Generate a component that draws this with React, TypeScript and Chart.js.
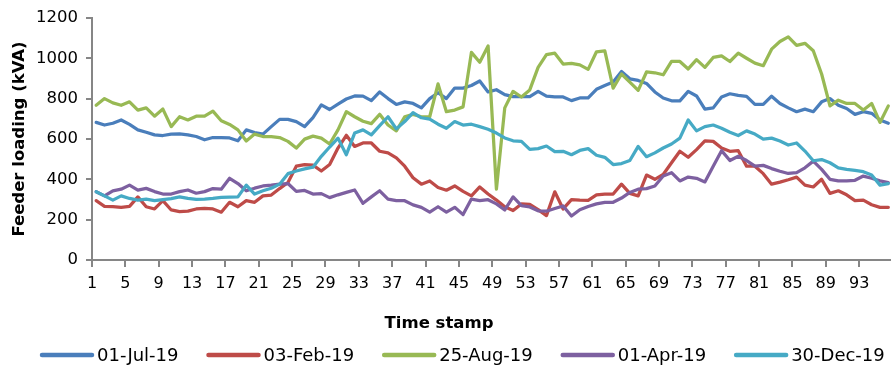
import React, { useEffect, useRef } from "react";
import { Chart, registerables } from "chart.js";

Chart.register(...registerables);

// Time stamps (15-minute intervals over one day)
const timeStamps = [
  1, 2, 3, 4, 5, 6, 7, 8, 9, 10, 11, 12, 13, 14, 15, 16, 17, 18, 19, 20,
  21, 22, 23, 24, 25, 26, 27, 28, 29, 30, 31, 32, 33, 34, 35, 36, 37, 38, 39, 40,
  41, 42, 43, 44, 45, 46, 47, 48, 49, 50, 51, 52, 53, 54, 55, 56, 57, 58, 59, 60,
  61, 62, 63, 64, 65, 66, 67, 68, 69, 70, 71, 72, 73, 74, 75, 76, 77, 78, 79, 80,
  81, 82, 83, 84, 85, 86, 87, 88, 89, 90, 91, 92, 93, 94, 95, 96,
];

// Feeder loading (kVA) per day
const jul01 = [
  682, 669, 678, 694, 672, 645, 633, 620, 617, 624,
  625, 620, 612, 596, 607, 607, 605, 591, 645, 632,
  624, 661, 697, 697, 686, 661, 706, 769, 746, 773,
  798, 813, 812, 790, 833, 800, 771, 784, 776, 754,
  800, 829, 800, 852, 852, 865, 887, 833, 844, 820,
  810, 810, 810, 836, 812, 808, 808, 790, 803, 803,
  846, 865, 882, 934, 898, 890, 875, 833, 803, 789,
  789, 836, 813, 748, 754, 808, 824, 816, 811, 771,
  771, 812, 776, 754, 735, 748, 735, 784, 800, 767,
  751, 722, 735, 727, 694, 678,
];

const feb03 = [
  294, 266, 264, 261, 266, 313, 264, 253, 294, 248,
  240, 242, 253, 256, 253, 237, 286, 264, 294, 286,
  318, 322, 354, 384, 465, 473, 470, 441, 473, 555,
  618, 563, 580, 580, 539, 531, 506, 465, 408, 376,
  392, 359, 346, 367, 340, 318, 362, 327, 297, 264,
  245, 278, 276, 250, 220, 338, 253, 299, 297, 296,
  323, 327, 327, 376, 330, 318, 421, 400, 424, 482,
  539, 509, 547, 591, 588, 555, 539, 542, 465, 465,
  428, 376, 386, 398, 411, 371, 362, 400, 330, 343,
  323, 294, 297, 274, 261, 261,
];

const aug25 = [
  767, 800, 779, 767, 784, 743, 754, 713, 748, 661,
  710, 694, 713, 713, 738, 690, 672, 645, 590, 624,
  612, 612, 607, 588, 555, 599, 614, 604, 575, 645,
  735, 710, 688, 676, 722, 669, 640, 710, 722, 710,
  710, 873, 735, 743, 759, 1029, 980, 1061, 351, 754,
  836, 808, 843, 955, 1018, 1025, 971, 975, 967, 945,
  1032, 1037, 852, 922, 882, 841, 932, 928, 918, 984,
  984, 947, 993, 955, 1004, 1012, 984, 1025, 1000, 976,
  963, 1045, 1083, 1106, 1064, 1074, 1037, 922, 764, 792,
  776, 776, 743, 776, 682, 764,
];

const apr01 = [
  338, 318, 343, 351, 371, 346, 355, 339, 327, 327,
  339, 347, 331, 339, 354, 351, 405, 379, 343, 356,
  367, 371, 376, 379, 340, 345, 327, 329, 309, 323,
  335, 347, 281, 313, 343, 302, 294, 294, 273, 261,
  237, 264, 237, 261, 225, 302, 294, 299, 278, 248,
  313, 269, 263, 244, 242, 255, 268, 218, 249, 265,
  278, 286, 286, 307, 335, 351, 354, 367, 416, 433,
  392, 411, 405, 387, 465, 542, 493, 514, 493, 465,
  469, 453, 440, 429, 433, 457, 490, 449, 400, 392,
  392, 395, 416, 405, 392, 384,
];

const dec30 = [
  338, 318, 297, 318, 305, 297, 302, 294, 299, 304,
  313, 305, 300, 302, 305, 310, 312, 313, 371, 327,
  343, 356, 376, 428, 441, 452, 460, 514, 560, 604,
  522, 629, 645, 620, 666, 710, 650, 686, 730, 705,
  698, 673, 653, 686, 669, 673, 661, 648, 629, 605,
  591, 588, 548, 552, 565, 537, 539, 522, 543, 552,
  519, 509, 473, 478, 493, 563, 512, 531, 555, 575,
  604, 694, 640, 661, 669, 653, 633, 617, 640, 624,
  599, 604, 590, 570, 580, 540, 492, 498, 482, 457,
  449, 444, 438, 421, 371, 379,
];

const seriesNames = ["01-Jul-19", "03-Feb-19", "25-Aug-19", "01-Apr-19", "30-Dec-19"];
const seriesValues = [jul01, feb03, aug25, apr01, dec30];
const seriesColors = ["#4A7EBB", "#BE4B48", "#98B954", "#7D60A0", "#46AAC5"];

const yTitle = "Feeder loading (kVA)";
const xTitle = "Time stamp";
const labelEvery = 4;

const AXIS_GREY = "#868686";
const FONT = '"DejaVu Sans", "Liberation Sans", sans-serif';

// Draws the axis titles and the legend row under the plot
const decorations = {
  id: "decorations",
  afterDraw(chart: any) {
    const { ctx } = chart;
    ctx.save();
    ctx.fillStyle = "#000";

    // y axis title
    ctx.font = `bold 16.5px ${FONT}`;
    ctx.textAlign = "center";
    ctx.textBaseline = "middle";
    ctx.save();
    ctx.translate(19.5, 139);
    ctx.rotate(-Math.PI / 2);
    ctx.fillText(yTitle, 0, 0);
    ctx.restore();

    // x axis title
    ctx.fillText(xTitle, 439, 324);

    // legend
    ctx.font = `18px ${FONT}`;
    ctx.textAlign = "left";
    const y = 355;
    let x = 40;
    seriesNames.forEach((name, i) => {
      ctx.strokeStyle = seriesColors[i];
      ctx.lineWidth = 4.5;
      ctx.lineCap = "round";
      ctx.beginPath();
      ctx.moveTo(x + 2, y);
      ctx.lineTo(x + 52, y);
      ctx.stroke();
      ctx.fillText(name, x + 57, y + 1);
      x += 57 + ctx.measureText(name).width + 28;
    });
    ctx.restore();
  },
};

export default function App() {
  const canvasRef = useRef<HTMLCanvasElement | null>(null);

  useEffect(() => {
    if (!canvasRef.current) return;
    const chart = new Chart(canvasRef.current, {
      type: "line",
      data: {
        datasets: seriesNames.map((name, i) => ({
          label: name,
          data: timeStamps.map((t, j) => ({ x: t, y: seriesValues[i][j] })),
          borderColor: seriesColors[i],
          backgroundColor: seriesColors[i],
          borderWidth: 3.25,
          borderJoinStyle: "round" as const,
          borderCapStyle: "round" as const,
          pointRadius: 0,
          tension: 0,
          order: -i,
        })),
      },
      options: {
        responsive: false,
        animation: false,
        layout: { padding: { top: 15, left: 0, right: 0, bottom: 0 } },
        plugins: {
          legend: { display: false },
          tooltip: { enabled: false },
          title: { display: false },
        },
        scales: {
          x: {
            type: "linear",
            min: 0.5,
            max: 96.32,
            afterBuildTicks: (scale: any) => {
              const ticks: { value: number }[] = [];
              for (let k = 0; k < timeStamps.length; k += labelEvery) {
                ticks.push({ value: k + 0.5 });
              }
              scale.ticks = ticks;
            },
            afterFit: (scale: any) => {
              scale.height = 109;
            },
            ticks: {
              autoSkip: false,
              maxRotation: 0,
              padding: 7,
              color: "#000",
              font: { family: FONT, size: 16 },
              callback: (value: any) => String(timeStamps[Math.round(Number(value) - 0.5)]),
            },
            grid: {
              drawOnChartArea: false,
              drawTicks: true,
              tickLength: 7,
              color: AXIS_GREY,
              lineWidth: 2,
            },
            border: { display: true, color: AXIS_GREY, width: 2 },
          },
          y: {
            min: 0,
            max: 1200,
            afterFit: (scale: any) => {
              scale.width = 92;
            },
            ticks: {
              stepSize: 200,
              padding: 8,
              color: "#000",
              font: { family: FONT, size: 16.5 },
              callback: (value: any) => String(value),
            },
            grid: {
              drawOnChartArea: false,
              drawTicks: true,
              tickLength: 6,
              color: AXIS_GREY,
              lineWidth: 2,
            },
            border: { display: true, color: AXIS_GREY, width: 2 },
          },
        },
      },
      plugins: [decorations],
    });
    return () => chart.destroy();
  }, []);

  return (
    <div style={{ position: "absolute", left: 0, top: 0, width: 891, height: 369, background: "#fff" }}>
      <canvas ref={canvasRef} width={891} height={369} />
    </div>
  );
}
